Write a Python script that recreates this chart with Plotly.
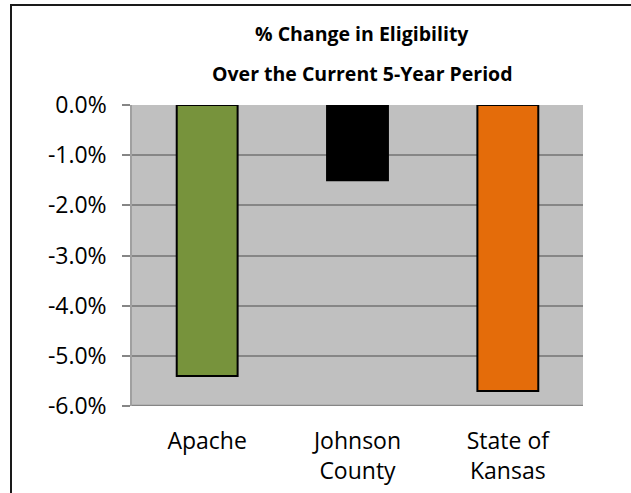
import plotly.graph_objects as go

categories = ["Apache", "Johnson County", "State of Kansas"]
tick_labels = ["Apache", "Johnson<br>County", "State of<br>Kansas"]
values = [-5.4, -1.5, -5.7]
colors = ["#77933C", "#000000", "#E46C0A"]
y_ticks = [0, -1, -2, -3, -4, -5, -6]
y_tick_labels = ["0.0%", "-1.0%", "-2.0%", "-3.0%", "-4.0%", "-5.0%", "-6.0%"]
title_lines = ["% Change in Eligibility", "Over the Current 5-Year Period"]

FONT = "Open Sans"
W, H = 631, 493
L, T = 132, 105
R = W - 583
B = H - 406
pw, ph = W - L - R, H - T - B

fig = go.Figure(go.Bar(
    x=categories, y=values,
    marker=dict(color=colors, line=dict(color="#000000", width=2)),
    width=0.405,
))

fig.update_layout(
    width=W, height=H,
    margin=dict(l=L, r=R, t=T, b=B, autoexpand=False),
    paper_bgcolor="white",
    plot_bgcolor="#C0C0C0",
    showlegend=False,
    font=dict(family=FONT, color="#000000"),
)

fig.update_xaxes(
    tickvals=categories, ticktext=tick_labels,
    tickfont=dict(family=FONT, size=23, color="#000000"),
    showgrid=False, showline=False,
    ticks="outside", ticklen=14, tickcolor="rgba(0,0,0,0)",
)
fig.update_yaxes(
    range=[-6, 0], tickvals=y_ticks, ticktext=y_tick_labels,
    tickfont=dict(family=FONT, size=23, color="#000000"),
    showgrid=True, gridcolor="#868686", gridwidth=1.5,
    zeroline=False,
    showline=True, linecolor="#A0A0A0", linewidth=1.5,
    ticks="outside", ticklen=8, tickcolor="#868686", tickwidth=1.5,
    ticklabelstandoff=11,
)

# bottom axis line (darker)
fig.add_shape(type="line", xref="paper", yref="y", x0=0, x1=1, y0=-6, y1=-6,
              line=dict(color="#868686", width=2.5))

# outer chart border
bx0 = (11 - L) / pw
by1 = 1 + (T - 5) / ph
fig.add_shape(type="rect", xref="paper", yref="paper",
              x0=bx0, x1=1 + (R + 20) / pw, y0=-(B + 20) / ph, y1=by1,
              line=dict(color="#1a1a1a", width=2), layer="below")

# title lines
for txt, ypix in zip(title_lines, [33, 73]):
    fig.add_annotation(text="<b>%s</b>" % txt, xref="paper", yref="paper",
                       x=(362 - L) / pw, y=1 + (T - ypix) / ph,
                       showarrow=False, xanchor="center", yanchor="middle",
                       font=dict(family=FONT, size=19.5, color="#000000"))

fig.write_html("out.html",
               config={"displayModeBar": False},
               post_script="document.body.style.margin='0';document.body.style.overflow='hidden';")
